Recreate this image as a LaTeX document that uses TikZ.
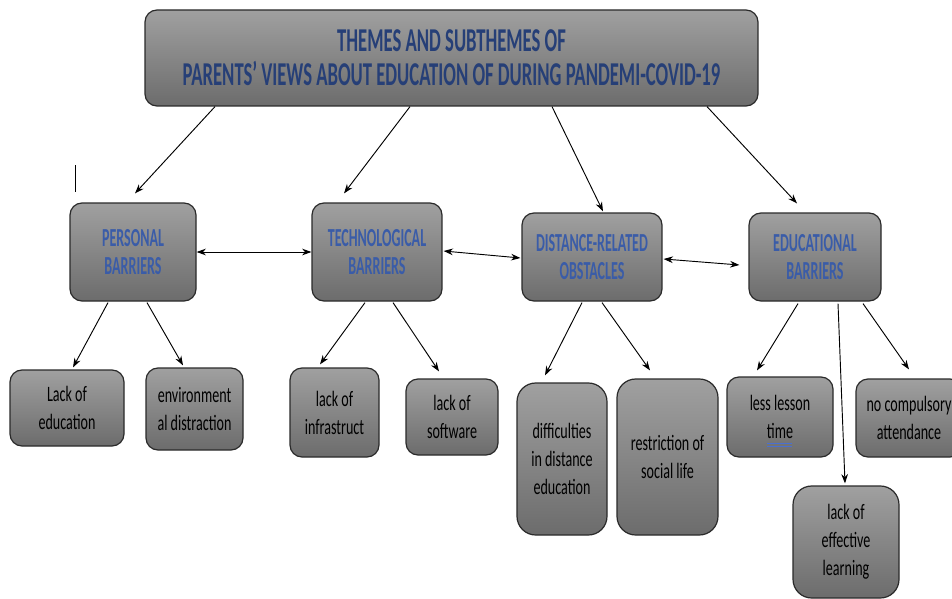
\documentclass[tikz,border=0pt]{standalone}
\usepackage{fontspec}
\setmainfont{Carlito}
\newfontfamily\ttlfont[FakeStretch=0.56]{Carlito}
\newfontfamily\thmfont[FakeStretch=0.54]{Carlito}
\newfontfamily\subfont[FakeStretch=0.64]{Carlito}
\usetikzlibrary{calc,arrows.meta}
\definecolor{ttlblue}{HTML}{263F77}
\definecolor{thmblue}{HTML}{3A5CA8}
\definecolor{gtop}{HTML}{A0A0A0}
\definecolor{gbot}{HTML}{6C6C6C}
\definecolor{edgec}{HTML}{2A2A2A}
\definecolor{spellblue}{HTML}{4A6FD0}
\begin{document}
\begin{tikzpicture}[x=0.75pt,y=-0.75pt,
  box/.style={draw=edgec, line width=0.9pt, rounded corners=9pt, top color=gtop, bottom color=gbot, inner sep=0pt, align=center},
  sz/.style 2 args={minimum width=#1*0.75pt, minimum height=#2*0.75pt},
  ttl/.style={box, font=\ttlfont\bfseries\fontsize{25}{25.5}\selectfont, text=ttlblue},
  thm/.style={box, font=\thmfont\bfseries\fontsize{19.5}{21}\selectfont, text=thmblue},
  sub/.style={box, font=\subfont\fontsize{16.5}{21}\selectfont, text=black},
  tall/.style={rounded corners=14pt},
  arr/.style={-{Stealth[length=7pt,width=5pt]}, line width=0.7pt, black},
  dbl/.style={{Stealth[length=7pt,width=5pt]}-{Stealth[length=7pt,width=5pt]}, line width=0.7pt, black}]
\useasboundingbox (0,0) rectangle (952,599);

% title
\node[ttl, sz={613}{96}] (title) at (451.5,58) {THEMES AND SUBTHEMES OF\\PARENTS’ VIEWS ABOUT EDUCATION OF DURING PANDEMI-COVID-19};

% themes
\node[thm, sz={126}{98}] (pers) at (133,252) {PERSONAL\\BARRIERS};
\node[thm, sz={130}{98}] (tech) at (377,252) {TECHNOLOGICAL\\BARRIERS};
\node[thm, sz={140}{88}] (dist) at (592,257) {DISTANCE-RELATED\\OBSTACLES};
\node[thm, sz={132}{88}] (edu) at (815,257) {EDUCATIONAL\\BARRIERS};

% subthemes
\node[sub, sz={114}{76}] (lackedu) at (67,408) {Lack of\\education};
\node[sub, sz={97}{82}] (envdist) at (194.5,409) {environment\\al distraction};
\node[sub, sz={89}{89}] (infra) at (334.5,412.5) {lack of\\infrastruct};
\node[sub, sz={92}{76}] (soft) at (452,417) {lack of\\software};
\node[sub, tall, sz={90}{152}] (diff) at (562,459) {difficulties\\in distance\\education};
\node[sub, tall, sz={101}{156}] (restr) at (667.5,457) {restriction of\\social life};
\node[sub, sz={106}{80}] (lesson) at (780,417) {less lesson\\time};
\node[sub, sz={106}{78}] (nocomp) at (909,418) {no compulsory\\attendance};
\node[sub, tall, sz={106}{112}] (effect) at (846,542) {lack of\\effective\\learning};

% spell-check underline under "time"
\draw[spellblue, line width=0.6pt] (767,443) -- (792,443) (767,446) -- (792,446);

% stray mark
\draw[line width=0.6pt] (75,165) -- (75,192);

% title to themes
\draw[arr] ($(title.south)+(-236.5,0)$) -- ($(pers.north)+(2,-9)$);
\draw[arr] ($(title.south)+(-41.5,0)$) -- ($(tech.north)+(-33,-9)$);
\draw[arr] ($(title.south)+(100.5,0)$) -- ($(dist.north)+(11,-1)$);
\draw[arr] ($(title.south)+(255.5,0)$) -- ($(edu.north)+(-18,-9)$);

% between themes
\draw[dbl] (pers.east) -- (tech.west);
\draw[dbl] ($(tech.east)+(1,-1)$) -- ($(dist.west)+(-1,1)$);
\draw[dbl] ($(dist.east)+(1,2)$) -- ($(edu.west)+(-9,8)$);

% themes to subthemes
\draw[arr] ($(pers.south)+(-25,1)$) -- ($(lackedu.north)+(6,-2)$);
\draw[arr] ($(pers.south)+(14,1)$) -- ($(envdist.north)+(-11.5,-2)$);
\draw[arr] ($(tech.south)+(-12,1)$) -- ($(infra.north)+(-14.5,-3)$);
\draw[arr] ($(tech.south)+(16,1)$) -- ($(soft.north)+(-13,-7)$);
\draw[arr] ($(dist.south)+(-10,1)$) -- ($(diff.north)+(-17,-7)$);
\draw[arr] ($(dist.south)+(10,1)$) -- ($(restr.north)+(-17.5,-8)$);
\draw[arr] ($(edu.south)+(-17,2)$) -- ($(lesson.north)+(-23,-6)$);
\draw[arr] ($(edu.south)+(23,2)$) -- ($(effect.north)+(-1,-2)$);
\draw[arr] ($(edu.south)+(48,2)$) -- ($(nocomp.north)+(0,-9)$);
\end{tikzpicture}
\end{document}
